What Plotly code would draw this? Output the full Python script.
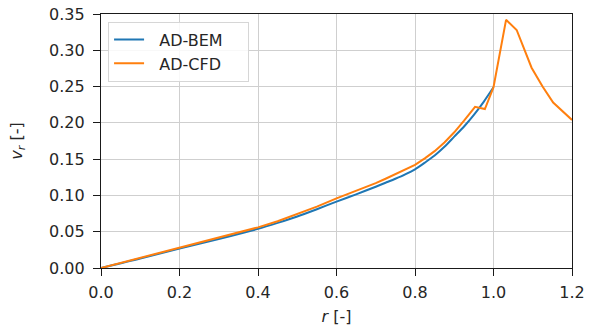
import plotly.graph_objects as go

r_bem = [0.0, 0.1, 0.2, 0.3, 0.4, 0.45, 0.5, 0.55, 0.6, 0.65, 0.7, 0.725, 0.75, 0.775, 0.8, 0.825,
         0.85, 0.875, 0.9, 0.925, 0.95, 0.975, 1.0]
v_bem = [0.0, 0.013, 0.027, 0.040, 0.054, 0.0622, 0.071, 0.081, 0.0915, 0.1015, 0.112, 0.1175, 0.123, 0.129, 0.136, 0.1452,
         0.155, 0.167, 0.181, 0.195, 0.211, 0.229, 0.249]

r_cfd = [0.0, 0.05, 0.1, 0.15, 0.2, 0.25, 0.3, 0.35, 0.4, 0.45, 0.5, 0.55, 0.6, 0.65, 0.7, 0.725, 0.75,
         0.775, 0.8, 0.825, 0.85, 0.875, 0.9, 0.925, 0.94, 0.953, 0.978, 1.0,
         1.032, 1.059, 1.097, 1.125, 1.152, 1.2]
v_cfd = [0.0, 0.007, 0.014, 0.021, 0.028, 0.0345, 0.041, 0.048, 0.056, 0.0645, 0.074, 0.0845, 0.096, 0.106, 0.117, 0.123, 0.129,
         0.1355, 0.142, 0.151, 0.161, 0.173, 0.187, 0.203, 0.213, 0.222, 0.219, 0.249,
         0.342, 0.328, 0.276, 0.250, 0.228, 0.204]

x_ticks = [0.0, 0.2, 0.4, 0.6, 0.8, 1.0, 1.2]
y_ticks = [0.0, 0.05, 0.10, 0.15, 0.20, 0.25, 0.30, 0.35]

FONT = "DejaVu Sans"
TXT = "#262626"
NB = "\u00a0"

fig = go.Figure()
fig.add_trace(go.Scatter(x=r_bem, y=v_bem, mode="lines", name=NB * 2 + "AD-BEM" + NB * 4,
                         line=dict(color="#1f77b4", width=2, shape="spline", smoothing=0.8)))
fig.add_trace(go.Scatter(x=r_cfd, y=v_cfd, mode="lines", name=NB * 2 + "AD-CFD" + NB * 4,
                         line=dict(color="#ff7f0e", width=2)))

axis_common = dict(
    showline=True, linecolor="#1a1a1a", linewidth=1.3, mirror=True,
    ticks="outside", ticklen=7, tickwidth=1.2, tickcolor="#1a1a1a",
    showgrid=True, gridcolor="#cfcfcf", gridwidth=1,
    zeroline=False, automargin=False,
    tickfont=dict(family=FONT, size=16, color=TXT),
)

fig.update_layout(
    width=592, height=331,
    margin=dict(l=101, r=20, t=14, b=63),
    paper_bgcolor="white", plot_bgcolor="white",
    font=dict(family=FONT, size=16, color=TXT),
    showlegend=True,
    legend=dict(x=0.015, y=0.97, xanchor="left", yanchor="top",
                bgcolor="rgba(255,255,255,0.85)", bordercolor="#d6d6d6", borderwidth=1,
                tracegroupgap=0,
                font=dict(family=FONT, size=16, color=TXT)),
    xaxis=dict(range=[0, 1.2], tickvals=x_ticks, tickformat=".1f",
               ticklabelstandoff=3,
               title=dict(text="<i>r</i> [-]", font=dict(family=FONT, size=16, color=TXT), standoff=9),
               **axis_common),
    yaxis=dict(range=[0, 0.35], tickvals=y_ticks, tickformat=".2f",
               ticklabelstandoff=5,
               title=dict(text="<i>v</i><sub><i>r</i></sub> [-]", font=dict(family=FONT, size=16, color=TXT), standoff=22),
               **axis_common),
)

fig.write_html("out.html")
